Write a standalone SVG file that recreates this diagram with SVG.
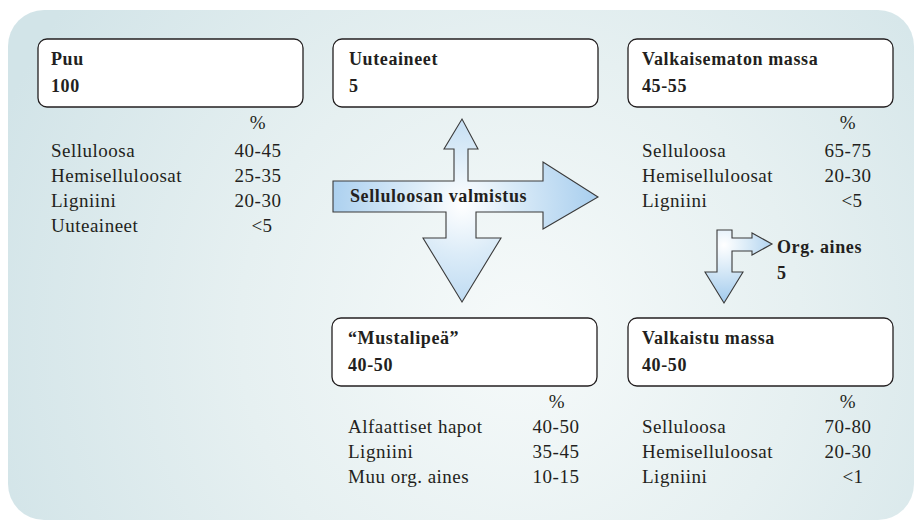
<svg xmlns="http://www.w3.org/2000/svg" width="914" height="522" viewBox="0 0 914 522">
<defs>
<radialGradient id="bg" cx="520" cy="330" r="560" gradientUnits="userSpaceOnUse">
<stop offset="0" stop-color="#f6fafa"/>
<stop offset="0.5" stop-color="#e6f0f1"/>
<stop offset="1" stop-color="#d2e4e8"/>
</radialGradient>
<radialGradient id="ag" cx="462" cy="205" r="140" gradientUnits="userSpaceOnUse">
<stop offset="0" stop-color="#ffffff"/>
<stop offset="0.35" stop-color="#dcecf8"/>
<stop offset="1" stop-color="#a6cdee"/>
</radialGradient>
<radialGradient id="ag2" cx="724" cy="245" r="55" gradientUnits="userSpaceOnUse">
<stop offset="0" stop-color="#ffffff"/>
<stop offset="0.4" stop-color="#dcecf8"/>
<stop offset="1" stop-color="#a6cdee"/>
</radialGradient>
<style>
.box{fill:#ffffff;stroke:#231f20;stroke-width:1.3}
.arr{stroke:#3a3a3a;stroke-width:1.1;stroke-linejoin:miter}
.h{font-family:"Liberation Serif",serif;font-weight:bold;font-size:18px;letter-spacing:0.6px;fill:#231f20}
.t{font-family:"Liberation Serif",serif;font-size:19px;letter-spacing:0.5px;fill:#231f20}
.v{text-anchor:middle}
</style>
</defs>
<rect x="8" y="10" width="906" height="510" rx="36" ry="36" fill="url(#bg)"/>

<g id="connectors">
<path class="arr" fill="url(#ag)" d="M333,181 L454,181 L454,149 L444,149 L462,119 L478,149 L468,149 L468,181 L543,181 L543,162 L598,197 L543,229 L543,212 L476,212 L476,238 L501,238 L462,302 L423,238 L446,238 L446,212 L333,212 Z"/>
<text class="h" x="350" y="202">Selluloosan valmistus</text>
<path class="arr" fill="url(#ag2)" d="M717,230 L732,230 L732,238 L752,238 L752,233 L772,244 L752,255 L752,251 L732,251 L732,272 L743,272 L724,303 L705,272 L717,272 Z"/>
</g>

<g id="puu">
<rect class="box" x="38" y="39" width="265" height="68" rx="9"/>
<text class="h" x="51" y="65">Puu</text>
<text class="h" x="51" y="92">100</text>
<text class="t v" x="258" y="129">%</text>
<text class="t" x="51" y="157">Selluloosa</text>
<text class="t v" x="258" y="157">40-45</text>
<text class="t" x="51" y="182">Hemiselluloosat</text>
<text class="t v" x="258" y="182">25-35</text>
<text class="t" x="51" y="207">Ligniini</text>
<text class="t v" x="258" y="207">20-30</text>
<text class="t" x="51" y="232">Uuteaineet</text>
<text class="t v" x="262" y="232">&lt;5</text>
</g>

<g id="uuteaineet">
<rect class="box" x="333" y="39" width="265" height="68" rx="9"/>
<text class="h" x="349" y="65">Uuteaineet</text>
<text class="h" x="349" y="92">5</text>
</g>

<g id="valkaisematon">
<rect class="box" x="628" y="39" width="265" height="68" rx="9"/>
<text class="h" x="642" y="65">Valkaisematon massa</text>
<text class="h" x="642" y="92">45-55</text>
<text class="t v" x="848" y="129">%</text>
<text class="t" x="642" y="157">Selluloosa</text>
<text class="t v" x="848" y="157">65-75</text>
<text class="t" x="642" y="182">Hemiselluloosat</text>
<text class="t v" x="848" y="182">20-30</text>
<text class="t" x="642" y="207">Ligniini</text>
<text class="t v" x="852" y="207">&lt;5</text>
</g>

<g id="org-aines">
<text class="h" x="777" y="253">Org. aines</text>
<text class="h" x="777" y="279">5</text>
</g>

<g id="mustalipea">
<rect class="box" x="332" y="318" width="265" height="68" rx="9"/>
<text class="h" x="348" y="344">“Mustalipeä”</text>
<text class="h" x="348" y="371">40-50</text>
<text class="t v" x="557" y="408">%</text>
<text class="t" x="348" y="433">Alfaattiset hapot</text>
<text class="t v" x="556" y="433">40-50</text>
<text class="t" x="348" y="458">Ligniini</text>
<text class="t v" x="556" y="458">35-45</text>
<text class="t" x="348" y="483">Muu org. aines</text>
<text class="t v" x="556" y="483">10-15</text>
</g>

<g id="valkaistu">
<rect class="box" x="628" y="318" width="265" height="68" rx="9"/>
<text class="h" x="642" y="344">Valkaistu massa</text>
<text class="h" x="642" y="371">40-50</text>
<text class="t v" x="848" y="408">%</text>
<text class="t" x="642" y="433">Selluloosa</text>
<text class="t v" x="848" y="433">70-80</text>
<text class="t" x="642" y="458">Hemiselluloosat</text>
<text class="t v" x="848" y="458">20-30</text>
<text class="t" x="642" y="483">Ligniini</text>
<text class="t v" x="853" y="483">&lt;1</text>
</g>
</svg>
